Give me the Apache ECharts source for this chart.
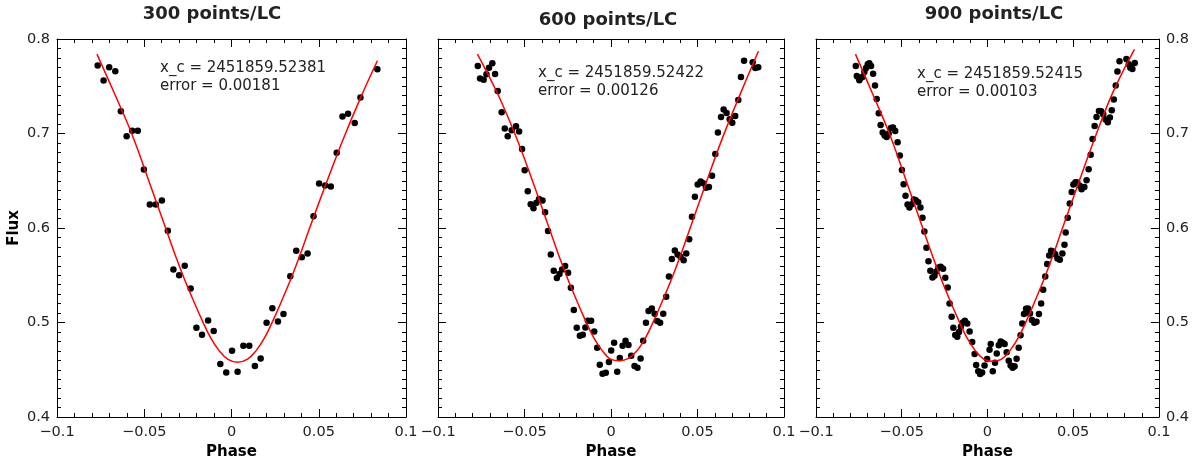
<!DOCTYPE html>
<html>
<head>
<meta charset="utf-8">
<script src="https://cdn.jsdelivr.net/npm/echarts@6/dist/echarts.min.js"></script>
<style>
  html, body { margin: 0; padding: 0; background: #fff; }
  #chart { width: 1192px; height: 468px; }
</style>
</head>
<body>
<div id="chart"></div>
<script>
// panel titles and fit annotations
const titles = ['300 points/LC', '600 points/LC', '900 points/LC']
const fitCenters = ['x_c = 2451859.52381', 'x_c = 2451859.52422', 'x_c = 2451859.52415']
const fitErrors = ['error = 0.00181', 'error = 0.00126', 'error = 0.00103']

// 300 points/LC
const phase300 = [-0.0767,-0.0733,-0.0701,-0.0666,-0.0634,-0.0601,-0.0569,-0.0537,-0.0502,-0.0468,
  -0.0434,-0.0399,-0.0365,-0.0333,-0.0300,-0.0268,-0.0234,-0.0201,-0.0169,-0.0134,
  -0.0102,-0.0064,-0.0030,0.0003,0.0035,0.0068,0.0102,0.0134,0.0167,0.0201,
  0.0234,0.0266,0.0298,0.0337,0.0371,0.0403,0.0436,0.0470,0.0502,0.0537,
  0.0569,0.0603,0.0636,0.0668,0.0706,0.0739,0.0836]
const flux300 = [0.772,0.756,0.770,0.766,0.7235,0.697,0.703,0.703,0.662,0.625,
  0.625,0.629,0.597,0.556,0.550,0.560,0.536,0.4945,0.487,0.502,
  0.491,0.456,0.447,0.470,0.448,0.4755,0.4755,0.454,0.462,0.4997,
  0.515,0.501,0.509,0.549,0.576,0.569,0.573,0.6125,0.647,0.645,
  0.644,0.6795,0.718,0.721,0.711,0.738,0.768]
const fitPhase300 = [-0.0771,-0.067,-0.057,-0.047,-0.037,-0.032,-0.027,-0.022,-0.017,-0.012,-0.007,-0.002,0.0035,
  0.009,0.014,0.019,0.024,0.029,0.034,0.039,0.044,0.054,0.064,0.074,0.0836]
const fitFlux300 = [0.784,0.742,0.699,0.648,0.596,0.570,0.546,0.524,0.503,0.484,0.470,0.461,0.458,
  0.461,0.470,0.484,0.503,0.524,0.546,0.570,0.596,0.646,0.694,0.738,0.777]

// 600 points/LC
const phase600 = [-0.0770,-0.0757,-0.0736,-0.0720,-0.0705,-0.0686,-0.0670,-0.0655,-0.0632,-0.0614,
  -0.0597,-0.0574,-0.0549,-0.0531,-0.0514,-0.0499,-0.0481,-0.0464,-0.0448,-0.0431,
  -0.0416,-0.0396,-0.0381,-0.0364,-0.0348,-0.0331,-0.0313,-0.0298,-0.0283,-0.0265,
  -0.0248,-0.0232,-0.0215,-0.0198,-0.0180,-0.0163,-0.0148,-0.0134,-0.0115,-0.0097,
  -0.0080,-0.0065,-0.0049,-0.0030,-0.0012,0.0001,0.0018,0.0036,0.0051,0.0067,
  0.0084,0.0101,0.0117,0.0136,0.0153,0.0171,0.0186,0.0202,0.0217,0.0236,
  0.0252,0.0267,0.0284,0.0302,0.0319,0.0335,0.0352,0.0369,0.0385,0.0402,
  0.0420,0.0435,0.0452,0.0468,0.0485,0.0501,0.0518,0.0533,0.0549,0.0566,
  0.0584,0.0603,0.0618,0.0636,0.0651,0.0668,0.0686,0.0701,0.0718,0.0736,
  0.0751,0.0769,0.0819,0.0834,0.0851]
const flux600 = [0.7715,0.7581,0.757,0.7626,0.7697,0.7743,0.763,0.745,0.7225,0.7052,
  0.6971,0.7034,0.7077,0.702,0.6837,0.6612,0.639,0.6252,0.621,0.6266,
  0.6308,0.6291,0.6167,0.5967,0.572,0.5547,0.547,0.5512,0.5561,0.5597,
  0.5526,0.5368,0.5131,0.4945,0.486,0.4871,0.4948,0.5019,0.5019,0.4906,
  0.4733,0.4553,0.4458,0.4469,0.4582,0.4705,0.4786,0.4479,0.4624,0.4754,
  0.4807,0.4761,0.4649,0.4539,0.4522,0.462,0.4807,0.4997,0.5121,0.5149,
  0.5093,0.5015,0.4997,0.5093,0.5272,0.5487,0.5671,0.5762,0.572,0.5695,
  0.566,0.573,0.5882,0.6118,0.633,0.646,0.6492,0.6474,0.6425,0.6435,
  0.6552,0.6784,0.701,0.7175,0.7253,0.7218,0.7151,0.7115,0.7186,0.7355,
  0.7598,0.7771,0.7753,0.7693,0.770]
const fitPhase600 = [-0.0772,-0.065,-0.055,-0.045,-0.035,-0.030,-0.025,-0.020,-0.015,-0.010,-0.005,0.000,0.005,
  0.010,0.015,0.020,0.025,0.030,0.035,0.040,0.045,0.055,0.065,0.075,0.0852]
const fitFlux600 = [0.784,0.740,0.697,0.648,0.596,0.570,0.546,0.524,0.503,0.484,0.470,0.461,0.4596,
  0.462,0.470,0.484,0.503,0.524,0.546,0.570,0.596,0.648,0.698,0.743,0.787]

// 900 points/LC
const phase900 = [-0.0768,-0.0762,-0.0752,-0.0747,-0.0739,-0.0729,-0.0718,-0.0708,-0.0698,-0.0689,
  -0.0679,-0.0667,-0.0656,-0.0646,-0.0634,-0.0623,-0.0611,-0.0600,-0.0588,-0.0576,
  -0.0563,-0.0551,-0.0538,-0.0524,-0.0511,-0.0499,-0.0489,-0.0478,-0.0466,-0.0455,
  -0.0441,-0.0429,-0.0418,-0.0404,-0.0391,-0.0379,-0.0368,-0.0356,-0.0344,-0.0333,
  -0.0321,-0.0309,-0.0298,-0.0286,-0.0273,-0.0259,-0.0246,-0.0232,-0.0221,-0.0209,
  -0.0199,-0.0188,-0.0176,-0.0166,-0.0155,-0.0143,-0.0132,-0.0118,-0.0104,-0.0089,
  -0.0075,-0.0066,-0.0054,-0.0043,-0.0031,-0.0017,-0.0002,0.0012,0.0019,0.0031,
  0.0044,0.0054,0.0066,0.0077,0.0089,0.0100,0.0112,0.0124,0.0135,0.0147,
  0.0158,0.0170,0.0182,0.0193,0.0203,0.0213,0.0225,0.0236,0.0248,0.0259,
  0.0273,0.0286,0.0300,0.0313,0.0325,0.0337,0.0348,0.0360,0.0371,0.0383,
  0.0395,0.0408,0.0422,0.0437,0.0449,0.0456,0.0468,0.0480,0.0491,0.0501,
  0.0513,0.0524,0.0538,0.0549,0.0565,0.0578,0.0590,0.0602,0.0613,0.0625,
  0.0636,0.0650,0.0663,0.0675,0.0689,0.0702,0.0714,0.0725,0.0737,0.0748,
  0.0758,0.0770,0.0810,0.0824,0.0833,0.0845,0.0859]
const flux900 = [0.7715,0.7609,0.7591,0.7563,0.7591,0.7598,0.7651,0.7693,0.7732,0.7743,
  0.7715,0.7633,0.7507,0.7366,0.7214,0.7091,0.701,0.6978,0.6964,0.6999,
  0.7059,0.7063,0.7027,0.6908,0.6767,0.6615,0.6464,0.634,0.6249,0.6217,
  0.6252,0.6301,0.6294,0.6273,0.6217,0.6108,0.5963,0.579,0.5649,0.5547,
  0.5477,0.5494,0.554,0.5582,0.559,0.5568,0.5473,0.5371,0.5202,0.5061,
  0.4945,0.4867,0.4849,0.4899,0.4955,0.5001,0.5019,0.499,0.4906,0.4793,
  0.4666,0.455,0.4483,0.4455,0.4472,0.4546,0.4613,0.4712,0.4772,0.4483,
  0.4575,0.4673,0.4758,0.48,0.4786,0.4772,0.4684,0.4596,0.4546,0.4522,
  0.4536,0.4617,0.4733,0.4864,0.499,0.5089,0.5146,0.5149,0.5096,0.5026,
  0.4997,0.5008,0.5089,0.5202,0.5346,0.5487,0.5618,0.5709,0.5759,0.5752,
  0.5723,0.5678,0.5663,0.5731,0.5822,0.5953,0.6108,0.6259,0.6382,0.646,
  0.6485,0.6481,0.6446,0.6411,0.6435,0.6506,0.6622,0.6774,0.6943,0.708,
  0.7175,0.7239,0.7235,0.7204,0.7147,0.7119,0.7168,0.7246,0.7359,0.7507,
  0.7655,0.7764,0.7789,0.7732,0.7697,0.7683,0.7746]
const fitPhase900 = [-0.077,-0.067,-0.057,-0.047,-0.037,-0.032,-0.027,-0.022,-0.017,-0.012,-0.007,-0.002,0.003,
  0.008,0.013,0.018,0.023,0.028,0.033,0.038,0.043,0.053,0.063,0.073,0.0857]
const fitFlux900 = [0.784,0.742,0.699,0.648,0.596,0.570,0.546,0.524,0.503,0.484,0.470,0.461,0.459,
  0.461,0.470,0.484,0.503,0.524,0.546,0.570,0.596,0.647,0.697,0.743,0.789]

const panels = [
  { phase: phase300, flux: flux300, fitX: fitPhase300, fitY: fitFlux300 },
  { phase: phase600, flux: flux600, fitX: fitPhase600, fitY: fitFlux600 },
  { phase: phase900, flux: flux900, fitX: fitPhase900, fitY: fitFlux900 },
]

const FONT = 'DejaVu Sans'
const INK = '#000'
const LABEL = '#222'

const grids = [
  { left: 57, top: 39, width: 349, height: 378 },
  { left: 438, top: 39, width: 346, height: 378 },
  { left: 816, top: 39, width: 344, height: 378 },
]
// where titles and annotations sit
const titlePos = [[212, 14], [608, 20], [994, 14]]
const notePos = [[160, 59], [538, 64], [917, 65]]

const zip = (xs, ys) => xs.map((x, i) => [x, ys[i]])
const fmtX = v => {
  const r = Math.round(v * 100) / 100
  return r < 0 ? '\u2212' + (-r) : String(r)
}
const fmtY = v => String(Math.round(v * 10) / 10)

function xAxisFor(i, pos) {
  const bottom = pos === 'bottom'
  return {
    type: 'value', gridIndex: i, position: pos,
    min: -0.1, max: 0.1, interval: 0.05,
    name: bottom ? 'Phase' : '',
    nameLocation: 'middle', nameGap: 28,
    nameTextStyle: { fontFamily: FONT, fontSize: 15, fontWeight: 'bold', color: INK },
    axisLine: { show: true, onZero: false, lineStyle: { color: INK, width: 1 } },
    axisTick: { show: true, inside: true, length: 8, lineStyle: { color: INK } },
    minorTick: { show: true, splitNumber: 5, length: 4, lineStyle: { color: INK } },
    splitLine: { show: false },
    axisLabel: {
      show: bottom, margin: 8, formatter: fmtX,
      fontFamily: FONT, fontSize: 14.5, color: LABEL,
      showMinLabel: true, showMaxLabel: true,
    },
  }
}

function yAxisFor(i, pos) {
  const showLabel = (i === 0 && pos === 'left') || (i === 2 && pos === 'right')
  return {
    type: 'value', gridIndex: i, position: pos,
    min: 0.4, max: 0.8, interval: 0.1,
    name: i === 0 && pos === 'left' ? 'Flux' : '',
    nameLocation: 'middle', nameRotate: 90, nameGap: 35,
    nameTextStyle: { fontFamily: FONT, fontSize: 15, fontWeight: 'bold', color: INK },
    axisLine: { show: true, onZero: false, lineStyle: { color: INK, width: 1 } },
    axisTick: { show: true, inside: true, length: 8, lineStyle: { color: INK } },
    minorTick: { show: true, splitNumber: 10, length: 4, lineStyle: { color: INK } },
    splitLine: { show: false },
    axisLabel: {
      show: showLabel, margin: 7, formatter: fmtY,
      fontFamily: FONT, fontSize: 14.5, color: LABEL,
      showMinLabel: true, showMaxLabel: true,
    },
  }
}

const xAxes = [], yAxes = [], series = [], graphics = []
panels.forEach((p, i) => {
  xAxes.push(xAxisFor(i, 'bottom'))
  yAxes.push(yAxisFor(i, 'left'))
})
panels.forEach((p, i) => {
  xAxes.push(xAxisFor(i, 'top'))
  yAxes.push(yAxisFor(i, 'right'))
})
panels.forEach((p, i) => {
  series.push({
    type: 'scatter', xAxisIndex: i, yAxisIndex: i,
    data: zip(p.phase, p.flux),
    symbol: 'circle', symbolSize: 6.5,
    itemStyle: { color: '#000', opacity: 1 },
    z: 2,
  })
  series.push({
    type: 'line', xAxisIndex: i, yAxisIndex: i,
    data: zip(p.fitX, p.fitY),
    smooth: 0.4, showSymbol: false,
    lineStyle: { color: '#ff0000', width: 1.5 },
    z: 3,
  })
  graphics.push({
    type: 'text', x: titlePos[i][0], y: titlePos[i][1],
    style: {
      text: titles[i], align: 'center', verticalAlign: 'middle',
      fontFamily: FONT, fontSize: 18, fontWeight: 'bold', fill: '#222',
    },
  })
  graphics.push({
    type: 'text', x: notePos[i][0], y: notePos[i][1],
    style: {
      text: fitCenters[i] + '\n' + fitErrors[i],
      fontFamily: FONT, fontSize: 15, lineHeight: 18, fill: '#222',
    },
  })
})

const chart = echarts.init(document.getElementById('chart'))
chart.setOption({
  animation: false,
  backgroundColor: '#fff',
  textStyle: { fontFamily: FONT },
  grid: grids,
  xAxis: xAxes,
  yAxis: yAxes,
  series: series,
  graphic: graphics,
})
</script>
</body>
</html>
